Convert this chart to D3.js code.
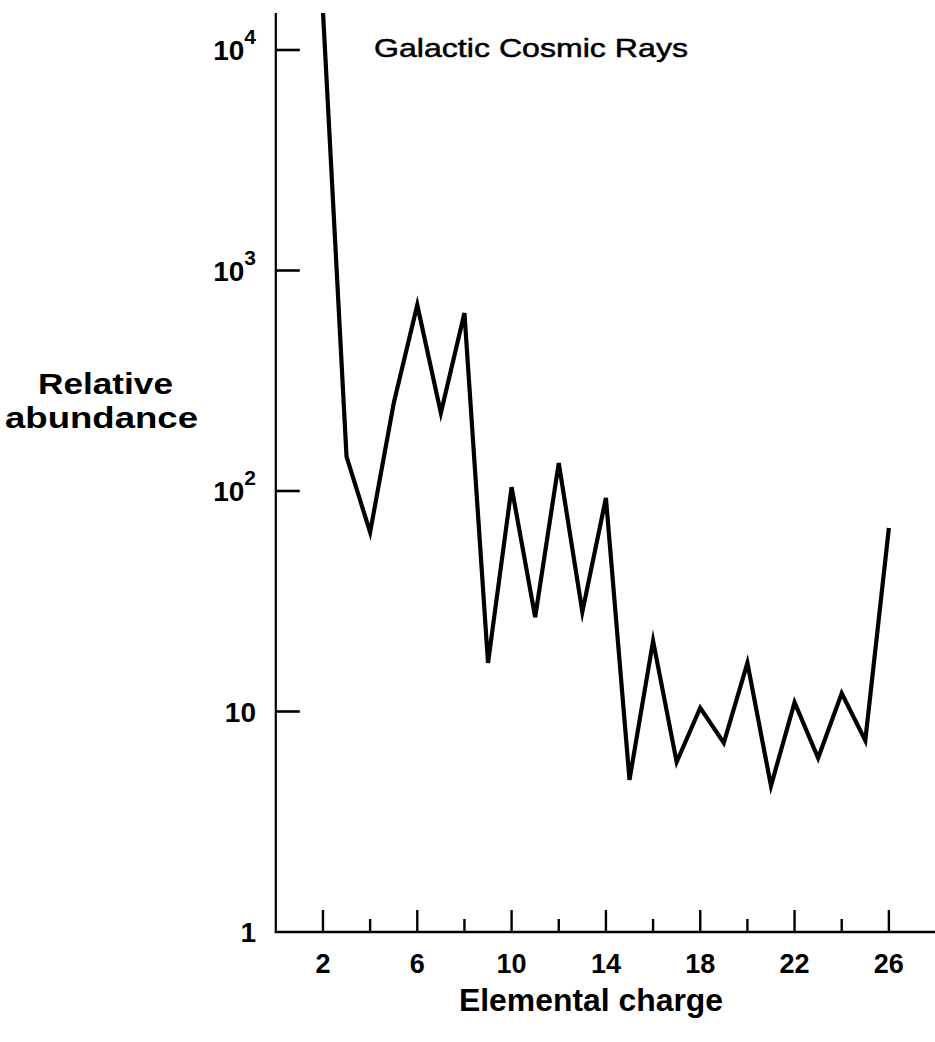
<!DOCTYPE html>
<html>
<head>
<meta charset="utf-8">
<script src="https://cdn.jsdelivr.net/npm/d3@7"></script>
<style>
  html, body { margin: 0; padding: 0; background: #fff; }
  svg { display: block; }
  text { font-family: "Liberation Sans", Arial, Helvetica, sans-serif; fill: #000; }
</style>
</head>
<body>
<svg id="chart" width="935" height="1042"></svg>
<script>
// Elemental charge Z of each cosmic-ray nucleus
const charges = [2, 3, 4, 5, 6, 7, 8, 9, 10, 11, 12, 13, 14, 15, 16, 17, 18, 19, 20, 21, 22, 23, 24, 25, 26];
// Relative abundance (Si = ~100 scale)
const abundance = [15000, 143, 65, 250, 698, 226, 641, 16.6, 104, 26.8, 134, 28.3, 93,
                   4.9, 20.9, 5.9, 10.4, 7.2, 16.6, 4.6, 11.0, 6.15, 12.1, 7.4, 68];

const xTickValues = [2, 4, 6, 8, 10, 12, 14, 16, 18, 20, 22, 24, 26];
const xLabelValues = [2, 6, 10, 14, 18, 22, 26];
const yTickValues = [10, 100, 1000, 10000];
const yTickLabels = [
  { v: 1, base: "1", sup: "" },
  { v: 10, base: "10", sup: "" },
  { v: 100, base: "10", sup: "2" },
  { v: 1000, base: "10", sup: "3" },
  { v: 10000, base: "10", sup: "4" }
];

const titleText = "Galactic Cosmic Rays";
const xTitle = "Elemental charge";
const yTitleLines = ["Relative", "abundance"];

const svg = d3.select("#chart");

const plotLeft = 275.8, plotRight = 935, plotTop = 13, plotBottom = 932;
const perUnit = 23.58;

const x = d3.scaleLinear()
  .domain([0, (plotRight - plotLeft) / perUnit])
  .range([plotLeft, plotRight]);

const perDecade = 220.5;
const y = d3.scaleLog()
  .domain([1, Math.pow(10, (plotBottom - plotTop) / perDecade)])
  .range([plotBottom, plotTop]);

// Clip the data line to the plotting area
svg.append("defs").append("clipPath").attr("id", "plot-clip")
  .append("rect")
  .attr("x", plotLeft).attr("y", plotTop)
  .attr("width", plotRight - plotLeft).attr("height", plotBottom - plotTop);

// Axes lines
svg.append("line")
  .attr("x1", plotLeft).attr("x2", plotLeft)
  .attr("y1", plotTop).attr("y2", plotBottom + 1)
  .attr("stroke", "#000").attr("stroke-width", 2.2);
svg.append("line")
  .attr("x1", plotLeft - 1).attr("x2", plotRight)
  .attr("y1", plotBottom).attr("y2", plotBottom)
  .attr("stroke", "#000").attr("stroke-width", 2.6);

// y ticks point into the plot
svg.append("g").selectAll("line")
  .data(yTickValues)
  .join("line")
  .attr("x1", plotLeft).attr("x2", plotLeft + 24)
  .attr("y1", d => y(d)).attr("y2", d => y(d))
  .attr("stroke", "#000").attr("stroke-width", 2.6);

// x ticks point upward: long at labelled charges, short between
svg.append("g").selectAll("line")
  .data(xTickValues)
  .join("line")
  .attr("x1", d => x(d)).attr("x2", d => x(d))
  .attr("y1", plotBottom)
  .attr("y2", d => plotBottom - (xLabelValues.includes(d) ? 22 : 13))
  .attr("stroke", "#000").attr("stroke-width", 2.4);

// x tick labels
svg.append("g").selectAll("text")
  .data(xLabelValues)
  .join("text")
  .attr("x", d => x(d))
  .attr("y", 973)
  .attr("text-anchor", "middle")
  .attr("font-size", 27)
  .attr("font-weight", "bold")
  .text(d => d);

// y tick labels with superscript exponents
const yl = svg.append("g").selectAll("text")
  .data(yTickLabels)
  .join("text")
  .attr("x", 256)
  .attr("y", d => y(d.v) + 10)
  .attr("text-anchor", "end")
  .attr("font-size", 28)
  .attr("font-weight", "bold");
yl.append("tspan").text(d => d.base);
yl.filter(d => d.sup).append("tspan")
  .attr("font-size", 21)
  .attr("dy", -16)
  .text(d => d.sup);

// Abundance line
const line = d3.line()
  .x((d, i) => x(charges[i]))
  .y(d => y(d));

svg.append("path")
  .datum(abundance)
  .attr("clip-path", "url(#plot-clip)")
  .attr("d", line)
  .attr("fill", "none")
  .attr("stroke", "#000")
  .attr("stroke-width", 4.2)
  .attr("stroke-linejoin", "miter")
  .attr("stroke-miterlimit", 6);

// Chart title
svg.append("text")
  .attr("x", 374).attr("y", 57)
  .attr("font-size", 26)
  .attr("stroke", "#000").attr("stroke-width", 0.5)
  .attr("textLength", 314).attr("lengthAdjust", "spacingAndGlyphs")
  .text(titleText);

// Axis titles
svg.append("text")
  .attr("x", 459).attr("y", 1011)
  .attr("font-size", 32)
  .attr("font-weight", "bold")
  .attr("textLength", 264).attr("lengthAdjust", "spacingAndGlyphs")
  .text(xTitle);

const yTitleWidths = [135, 193];
const yTitleX = [38, 5];
const yTitleY = [394, 428];
yTitleLines.forEach((t, i) => {
  svg.append("text")
    .attr("x", yTitleX[i]).attr("y", yTitleY[i])
    .attr("font-size", 29)
    .attr("font-weight", "bold")
    .attr("textLength", yTitleWidths[i]).attr("lengthAdjust", "spacingAndGlyphs")
    .text(t);
});
</script>
</body>
</html>
